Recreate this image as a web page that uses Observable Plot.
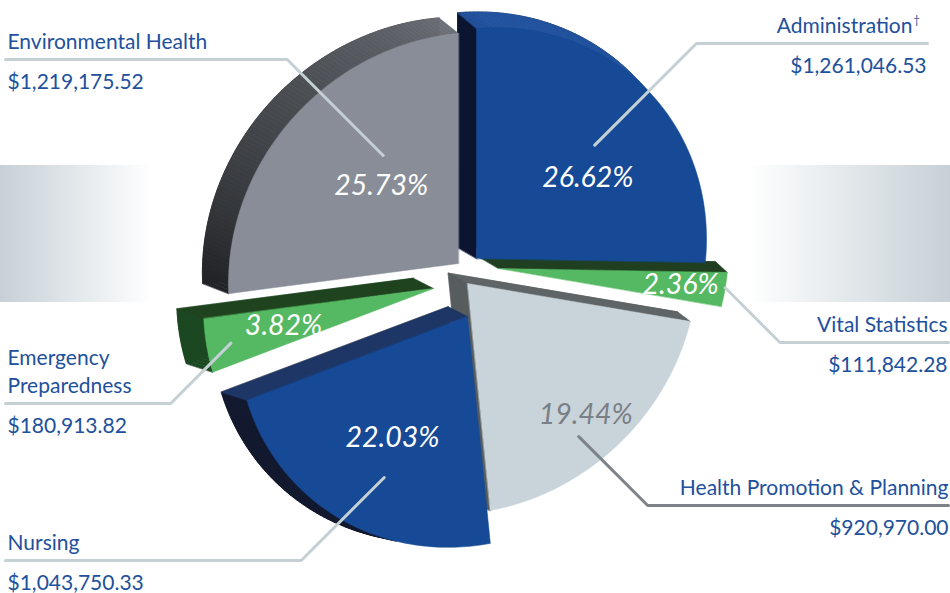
<!DOCTYPE html>
<html><head><meta charset="utf-8">
<script src="https://cdn.jsdelivr.net/npm/d3@7"></script>
<script src="https://cdn.jsdelivr.net/npm/@observablehq/plot@0.6"></script>
<style>html,body{margin:0;padding:0;background:#fff;} svg{display:block;}</style>
</head><body><div id="chart"></div>
<script>
// ---------- DATA ----------
const categories = ["Administration", "Vital Statistics", "Health Promotion & Planning", "Nursing", "Emergency Preparedness", "Environmental Health"];
const amounts = [1261046.53, 111842.28, 920970.00, 1043750.33, 180913.82, 1219175.52];
const nameLabels = ["Administration", "Vital Statistics", "Health Promotion & Planning", "Nursing", "Emergency\nPreparedness", "Environmental Health"];

// ---------- STYLE / LAYOUT ----------
const W = 950, H = 593;
const R = 230;              // slice radius
const SHEAR = -0.085;       // view tilt of the pie plane
const apex = [[476,258],[498,268],[467,283],[467,316],[433,288],[458,263]]; // exploded slice tips
const frontColor = ["#164a96","#55b862","#c8d4da","#164a96","#55b862","#888d97"];
const sideLight  = ["#2456a2","#203f20","#5f6466","#22407a","#21421f","#73777e"];
const sideDark   = ["#0b1531","#1c391d","#575c5e","#131a2f","#1b4821","#222427"];
const pctColor   = ["#ffffff","#ffffff","#7a7f86","#ffffff","#ffffff","#ffffff"];
const pctF = [0.6,0.5,0.51,0.49,0.5,0.54], pctR = [132,185,184,137,152,114];
const callF = [0.51,0.45,0.59,0.43,0.43,0.64], callR = [157,230,197,175,206,137];
const side = ["right","right","right","left","left","left"];
const ruleY = [43,342,505,560,403,59];
const ruleEnd = [927,948,948,5,5,5];
const textX = [926,947,948,7,7,7];
const ruleColor = ["#c5d0d5","#c5d0d5","#7c8287","#c5d0d5","#c5d0d5","#c5d0d5"];
const textBlue = "#21509c";

// ---------- GEOMETRY ----------
const total = d3.sum(amounts);
let acc = 0;
const slices = amounts.map((v, i) => {
  const a0 = acc / total * 2 * Math.PI; acc += v;
  const a1 = acc / total * 2 * Math.PI;
  return {i, a0, a1, share: v / total};
});
function pt(i, th, r = R) {
  const [ax, ay] = apex[i];
  return [ax + r * Math.sin(th), ay + r * (-Math.cos(th) + SHEAR * Math.sin(th))];
}
function depth([x, y]) { return [0.029 * (x - 1128), 0.021 * (y - 777)]; }
const shift = p => { const d = depth(p); return [p[0] + d[0], p[1] + d[1]]; };

const backs = [], sides = [], fronts = [];
let pid = 0;
function addPoly(arr, pts, fill) { const id = pid++; pts.forEach(([x, y]) => arr.push({id, x, y, fill})); }

slices.forEach(s => {
  const n = Math.max(2, Math.ceil((s.a1 - s.a0) / (Math.PI / 180)));
  const arc = d3.range(n + 1).map(k => pt(s.i, s.a0 + (s.a1 - s.a0) * k / n));
  const A = apex[s.i];
  const outline = [A, ...arc];
  const Q = pt(s.i, (s.a0 + s.a1) / 2, R * 0.5);
  addPoly(backs, outline.map(shift), sideDark[s.i]);
  const edges = [[A, arc[0]], ...d3.range(n).map(k => [arc[k], arc[k + 1]]), [arc[n], A]];
  edges.forEach(([p1, p2]) => {
    const ex = p2[0] - p1[0], ey = p2[1] - p1[1];
    let nx = ey, ny = -ex; const L = Math.hypot(nx, ny); nx /= L; ny /= L;
    const m = [(p1[0] + p2[0]) / 2, (p1[1] + p2[1]) / 2];
    if (nx * (m[0] - Q[0]) + ny * (m[1] - Q[1]) < 0) { nx = -nx; ny = -ny; }
    const d = depth(m);
    if (nx * d[0] + ny * d[1] <= 0) return;
    const up = Math.max(0, -ny), left = Math.max(0, -nx);
    const t = left / (left + up + 1e-9);
    const col = d3.interpolateRgb(sideLight[s.i], sideDark[s.i])(t);
    addPoly(sides, [p1, p2, shift(p2), shift(p1)], col);
  });
  addPoly(fronts, outline, frontColor[s.i]);
});

// percentage labels
const fmtPct = d3.format(".2%");
const pctRows = slices.map(s => {
  const [x, y] = pt(s.i, s.a0 + (s.a1 - s.a0) * pctF[s.i], pctR[s.i]);
  return {x, y, text: fmtPct(s.share), fill: pctColor[s.i]};
});

// callout lines
const ruleRows = [];
slices.forEach(s => {
  const S = pt(s.i, s.a0 + (s.a1 - s.a0) * callF[s.i], callR[s.i]);
  const dir = side[s.i] === "right" ? 1 : -1;
  const E = [S[0] + dir * Math.abs(ruleY[s.i] - S[1]), ruleY[s.i]];
  [S, E, [ruleEnd[s.i], ruleY[s.i]]].forEach(([x, y]) => ruleRows.push({id: s.i, x, y, stroke: ruleColor[s.i]}));
});

// name / amount labels
const fmtAmt = d3.format("$,.2f");
const nameRows = slices.map(s => ({
  x: s.i === 0 ? textX[s.i] - 14 : textX[s.i], y: ruleY[s.i] - 11,
  text: nameLabels[s.i], side: side[s.i]
}));
const amtRows = slices.map(s => ({
  x: textX[s.i], y: ruleY[s.i] + 29, text: fmtAmt(amounts[s.i]), side: side[s.i]
}));
const daggerRows = [{x: textX[0] - 13, y: ruleY[0] - 20, text: "†"}];
const isL = d => d.side === "left", isR = d => d.side === "right";

const bands = [{x1: 0, x2: 152, y1: 165, y2: 302, g: "url(#bandL)"}, {x1: 748, x2: 950, y1: 165, y2: 302, g: "url(#bandR)"}];
const txt = {x: "x", y: "y", text: "text", lineAnchor: "bottom", lineHeight: 1.3, fontSize: 21, fontFamily: "Lato", fill: textBlue};

const svg = Plot.plot({
  width: W, height: H,
  margin: 0,
  x: {domain: [0, W], range: [0, W], axis: null},
  y: {domain: [0, H], range: [0, H], axis: null},
  color: {type: "identity"},
  style: {background: "#fff"},
  marks: [
    Plot.rect(bands, {x1: "x1", x2: "x2", y1: "y1", y2: "y2", fill: d => d.g}),
    Plot.line(backs, {x: "x", y: "y", z: "id", fill: "fill", stroke: "fill", strokeWidth: 0.6, curve: "linear-closed"}),
    Plot.line(sides, {x: "x", y: "y", z: "id", fill: "fill", stroke: "fill", strokeWidth: 0.6, curve: "linear-closed"}),
    Plot.line(fronts, {x: "x", y: "y", z: "id", fill: "fill", stroke: "fill", strokeWidth: 0.5, curve: "linear-closed"}),
    Plot.line(ruleRows, {x: "x", y: "y", z: "id", stroke: "stroke", strokeWidth: 3, strokeLinejoin: "round"}),
    Plot.text(pctRows, {x: "x", y: "y", text: "text", fill: "fill", fontSize: 28.5, fontStyle: "italic", fontFamily: "Lato", textAnchor: "middle"}),
    Plot.text(nameRows, {...txt, filter: isL, textAnchor: "start"}),
    Plot.text(nameRows, {...txt, filter: isR, textAnchor: "end"}),
    Plot.text(amtRows, {...txt, filter: isL, textAnchor: "start"}),
    Plot.text(amtRows, {...txt, filter: isR, textAnchor: "end"}),
    Plot.text(daggerRows, {x: "x", y: "y", text: "text", textAnchor: "start", lineAnchor: "bottom", fontSize: 11, fontFamily: "Lato", fill: textBlue})
  ]
});

// gradient definitions for background bands
const defs = d3.select(svg).insert("defs", ":first-child");
const gl = defs.append("linearGradient").attr("id", "bandL").attr("x1", 0).attr("x2", 1).attr("y1", 0).attr("y2", 0);
gl.append("stop").attr("offset", 0).attr("stop-color", "#c6d0d6").attr("stop-opacity", 1);
gl.append("stop").attr("offset", 1).attr("stop-color", "#c6d0d6").attr("stop-opacity", 0);
const gr = defs.append("linearGradient").attr("id", "bandR").attr("x1", 0).attr("x2", 1).attr("y1", 0).attr("y2", 0);
gr.append("stop").attr("offset", 0).attr("stop-color", "#c6d0d6").attr("stop-opacity", 0);
gr.append("stop").attr("offset", 1).attr("stop-color", "#c6d0d6").attr("stop-opacity", 1);

document.getElementById("chart").appendChild(svg);
</script>
</body></html>
